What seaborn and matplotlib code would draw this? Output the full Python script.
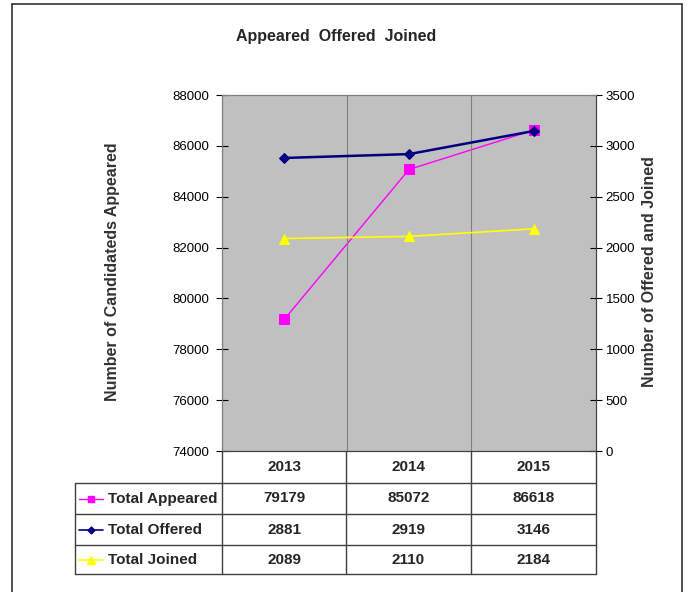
import numpy as np
import pandas as pd
import seaborn as sns
import matplotlib.pyplot as plt
from matplotlib.lines import Line2D

years = ["2013", "2014", "2015"]
appeared = [79179, 85072, 86618]
offered = [2881, 2919, 3146]
joined = [2089, 2110, 2184]
row_names = ["Total Appeared", "Total Offered", "Total Joined"]
left_ticks = [74000, 76000, 78000, 80000, 82000, 84000, 86000, 88000]
right_ticks = [0, 500, 1000, 1500, 2000, 2500, 3000, 3500]

sns.set_style("white")
plt.rcParams["font.family"] = ["Liberation Sans", "DejaVu Sans"]

W, H = 688, 592
fig = plt.figure(figsize=(W / 100, H / 100), dpi=100)

def fx(x):
    return x / W

def fy(y):
    return 1 - y / H

# outer frame
for xs, ys in [([12, 12], [4, 592]), ([12, 682], [4, 4]), ([682, 682], [4, 592])]:
    fig.add_artist(Line2D([fx(v) for v in xs], [fy(v) for v in ys], color="#333333", lw=1.2))

L, R, T, B = 222, 596, 95, 451
ax = fig.add_axes([fx(L), fy(B), fx(R) - fx(L), fy(T) - fy(B)])
ax.set_facecolor("#C0C0C0")

df = pd.DataFrame({"year": years, "appeared": appeared,
                   "offered": offered, "joined": joined})

sns.lineplot(data=df, x="year", y="appeared", ax=ax, color="#FF00FF",
             marker="s", markersize=6.5, markeredgecolor="#FF00FF", lw=1, sort=False)
ax.set_ylim(74000, 88000)
ax.set_yticks(left_ticks)
ax.set_xlim(-0.5, 2.5)
ax.axvline(0.5, color="#808080", lw=0.8)
ax.axvline(1.5, color="#808080", lw=0.8)

ax2 = ax.twinx()
ax2.patch.set_visible(False)
sns.lineplot(data=df, x="year", y="offered", ax=ax2, color="#000080",
             marker="D", markersize=5, markeredgecolor="#000080", lw=1.8, sort=False)
sns.lineplot(data=df, x="year", y="joined", ax=ax2, color="#FFFF00",
             marker="^", markersize=7, markeredgecolor="#FFFF00", lw=1.2, sort=False)
ax2.set_ylim(0, 3500)
ax2.set_yticks(right_ticks)
ax2.set_xlim(-0.5, 2.5)

for a in (ax, ax2):
    a.set_xlabel("")
    a.set_ylabel("")
    a.set_xticks([])
    for s in a.spines.values():
        s.set_color("#808080")
        s.set_linewidth(0.8)
    a.spines["bottom"].set_color("#404040")
ax.spines["left"].set_color("#404040")
ax2.spines["right"].set_color("#404040")

ax.tick_params(axis="y", direction="inout", length=8, width=0.8, colors="black",
               labelsize=9.5, pad=5, left=True)
ax2.tick_params(axis="y", direction="inout", length=8, width=0.8, colors="black",
                labelsize=9.5, pad=3, right=True)

fig.text(fx(113), fy(272), "Number of Candidateds Appeared", rotation=90,
         ha="center", va="center", fontsize=11.5, fontweight="bold", color="#333333")
fig.text(fx(650), fy(272), "Number of Offered and Joined", rotation=90,
         ha="center", va="center", fontsize=11.5, fontweight="bold", color="#333333")
fig.text(fx(336), fy(36), "Appeared  Offered  Joined", ha="center", va="center",
         fontsize=11.5, fontweight="bold")

# data table under the plot
row_y = [451, 483, 514, 545, 574]
col_x = [222, 346, 471, 596]
grid = "#404040"
for y in row_y[1:]:
    fig.add_artist(Line2D([fx(75), fx(596)], [fy(y), fy(y)], color=grid, lw=1))
fig.add_artist(Line2D([fx(75), fx(75)], [fy(483), fy(574)], color=grid, lw=1))
for x in col_x:
    fig.add_artist(Line2D([fx(x), fx(x)], [fy(451), fy(574)], color=grid, lw=1))

centers = [(col_x[i] + col_x[i + 1]) / 2 for i in range(3)]
for c, yr in zip(centers, years):
    fig.text(fx(c), fy(467), yr, ha="center", va="center", fontsize=11,
             fontweight="bold")

series = [appeared, offered, joined]
styles = [("#FF00FF", "s", 5, 1), ("#000080", "D", 3.5, 1.2), ("#FFFF00", "^", 6, 1.2)]
for i, (name, vals, st) in enumerate(zip(row_names, series, styles)):
    yc = (row_y[i + 1] + row_y[i + 2]) / 2
    color, mk, ms, lw = st
    fig.add_artist(Line2D([fx(79), fx(91), fx(103)], [fy(yc)] * 3, color=color, lw=lw,
                          marker=mk, markersize=ms, markevery=[1],
                          markerfacecolor=color, markeredgecolor=color))
    fig.text(fx(108), fy(yc), name, ha="left", va="center", fontsize=11,
             fontweight="bold")
    for c, v in zip(centers, vals):
        fig.text(fx(c), fy(yc), str(v), ha="center", va="center", fontsize=11,
                 fontweight="bold")

fig.savefig("out.png", dpi=100)
